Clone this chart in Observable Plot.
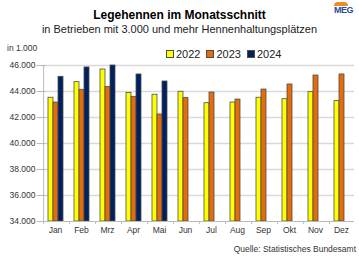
<!DOCTYPE html>
<html><head><meta charset="utf-8">
<script src="https://cdn.jsdelivr.net/npm/d3@7"></script>
<script src="https://cdn.jsdelivr.net/npm/@observablehq/plot@0.6"></script>
<style>
body{margin:0;width:359px;height:266px;position:relative;background:#fff;font-family:"Liberation Sans",Arial,sans-serif;overflow:hidden}
.abs{position:absolute;white-space:nowrap}
#legend{display:flex;align-items:center;font-size:11px;color:#222}
#legend span.sw{display:inline-block;width:6px;height:6px;border:1px solid #4d4d4d;margin-right:2px}
#legend span.lb{margin-right:6px}
</style></head><body>
<div class="abs" style="left:0;width:359px;text-align:center;top:8px;font-size:12px;font-weight:bold;color:#000">Legehennen im Monatsschnitt</div>
<div class="abs" style="left:0;width:359px;text-align:center;top:23px;font-size:11px;color:#222">in Betrieben mit 3.000 und mehr Hennenhaltungsplätzen</div>
<div class="abs" style="left:334px;top:2px;width:14px;height:4px;background:#f08a24;border-radius:7px 7px 0 0"></div>
<div class="abs" style="left:334px;top:5px;font-size:9px;font-weight:bold;color:#1f4e9c;letter-spacing:-0.5px">MEG</div>
<div class="abs" style="left:7px;top:43px;font-size:8.5px;color:#333">in 1.000</div>
<div class="abs" id="legend" style="left:166px;top:48px"></div>
<div class="abs" id="chart" style="left:0;top:40px"></div>
<div class="abs" style="right:3px;top:244px;font-size:8.5px;color:#333">Quelle: Statistisches Bundesamt</div>
<script>
const months = ["Jan","Feb","Mrz","Apr","Mai","Jun","Jul","Aug","Sep","Okt","Nov","Dez"];
const years = ["2022","2023","2024"];
const v2022 = [43520,44720,45690,43880,43750,43980,43100,43150,43520,43410,43950,43260];
const v2023 = [43150,44130,44340,43590,42230,43490,43920,43380,44150,44540,45230,45310];
const v2024 = [45130,45850,46000,45310,44770];
const yTicks = [34000,36000,38000,40000,42000,44000,46000];
const colors = ["#ffff00","#e46c0a","#002060"];

const series = [v2022, v2023, v2024];
const data = [];
months.forEach((m, i) => series.forEach((arr, j) => {
  if (arr[i] != null) data.push({month: m, year: years[j], value: arr[i]});
}));

const legend = document.getElementById("legend");
years.forEach((y, j) => {
  legend.insertAdjacentHTML("beforeend", `<span class="sw" style="background:${colors[j]}"></span><span class="lb">${y}</span>`);
});

const W = 359, ML = 37, MR = 1, outer = 0.73;
const facetW = (W - ML - MR) / months.length;
const barStep = facetW / (years.length + 2 * outer);
const edgeDx = -(outer * barStep + barStep / 2);
const yMin = yTicks[0], yMax = yTicks[yTicks.length - 1];

const chart = Plot.plot({
  width: W, height: 200,
  marginTop: 25, marginBottom: 19, marginLeft: ML, marginRight: MR,
  style: {fontSize: "8.5px", fontFamily: "'Liberation Sans', Arial, sans-serif", color: "#333", background: "transparent"},
  fx: {domain: months, padding: 0, axis: "bottom", tickSize: 0, tickPadding: 5, label: null},
  x: {domain: years, axis: null, paddingInner: 0, paddingOuter: outer},
  y: {domain: [yMin, yMax], ticks: yTicks, tickFormat: d => d.toLocaleString("de-DE"), tickSize: 0, tickPadding: 7, label: null},
  color: {domain: years, range: colors},
  marks: [
    Plot.ruleY(yTicks.slice(1), {stroke: "#d9d9d9", strokeWidth: 1.5}),
    Plot.ruleY(yTicks, {fx: () => months[0], stroke: "#bbb", insetLeft: -4, dx: 0, x1: () => years[0], x2: () => years[0], dx: edgeDx}),
    Plot.barY(data, {fx: "month", x: "year", y1: () => yMin, y2: "value", fill: "year", stroke: "#4d4d4d", strokeWidth: 0.8}),
    Plot.ruleY([yMin], {stroke: "#bbb"}),
    Plot.ruleX(months, {fx: d => d, x: () => years[0], dx: edgeDx, y1: () => yMin, y2: () => yMin, insetBottom: -3, stroke: "#bbb"}),
    Plot.ruleX([months[0]], {fx: d => d, x: () => years[0], dx: edgeDx, y1: () => yMin, y2: () => yMax, stroke: "#bbb"})
  ]
});
document.getElementById("chart").appendChild(chart);
</script>
</body></html>
